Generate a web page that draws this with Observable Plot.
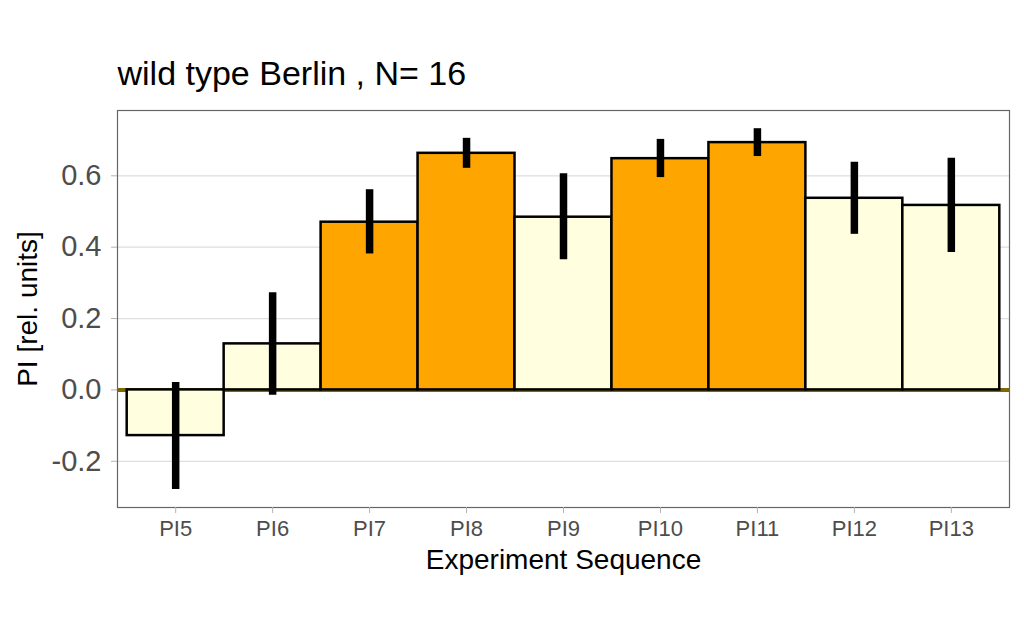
<!DOCTYPE html>
<html>
<head>
<meta charset="utf-8">
<script src="https://cdn.jsdelivr.net/npm/d3@7"></script>
<script src="https://cdn.jsdelivr.net/npm/@observablehq/plot@0.6"></script>
<style>
  html, body { margin: 0; padding: 0; background: #ffffff; }
  #chart { width: 1024px; height: 640px; }
</style>
</head>
<body>
<div id="chart"></div>
<script>
const titleText = "wild type Berlin , N= 16";
const xTitle = "Experiment Sequence";
const yTitle = "PI [rel. units]";

const labels = ["PI5", "PI6", "PI7", "PI8", "PI9", "PI10", "PI11", "PI12", "PI13"];
const phase  = ["test", "test", "training", "training", "test", "training", "training", "test", "test"];
const means  = [-0.128, 0.129, 0.470, 0.663, 0.484, 0.648, 0.693, 0.537, 0.517];
const lower  = [-0.279, -0.015, 0.381, 0.621, 0.365, 0.595, 0.654, 0.436, 0.385];
const upper  = [0.021, 0.272, 0.561, 0.705, 0.606, 0.702, 0.732, 0.638, 0.649];
const yTicks = [-0.2, 0.0, 0.2, 0.4, 0.6];

const data = labels.map((label, i) => ({
  label, phase: phase[i], mean: means[i], lo: lower[i], hi: upper[i]
}));

const fmt = d => d.toFixed(1);

const chart = Plot.plot({
  width: 1024,
  height: 640,
  marginLeft: 117,
  marginRight: 15,
  marginTop: 110,
  marginBottom: 133,
  style: { fontFamily: "'Liberation Sans', Arial, sans-serif", background: "#ffffff" },
  x: { domain: labels, paddingInner: 0, paddingOuter: 0.1, round: false, axis: null },
  y: { domain: [-0.3295, 0.783], axis: null },
  color: { domain: ["test", "training"], range: ["#FFFFE0", "#FFA500"] },
  marks: [
    Plot.gridY(yTicks, { stroke: "#dedede", strokeOpacity: 1, strokeWidth: 1.2 }),
    Plot.ruleY([0], { stroke: "#806800", strokeWidth: 4 }),
    Plot.barY(data, { x: "label", y: "mean", fill: "phase", stroke: "#000000", strokeWidth: 2.5 }),
    Plot.ruleX(data, { x: "label", y1: "lo", y2: "hi", stroke: "#000000", strokeWidth: 7.5 }),
    Plot.frame({ stroke: "#666666", strokeWidth: 1.2 }),
    Plot.axisY(yTicks, {
      tickFormat: fmt, tickSize: 6, tickPadding: 10, fontSize: 29,
      fill: "#4d4d4d", stroke: "#b3b3b3", label: null
    }),
    Plot.axisX(labels, {
      tickSize: 6, tickPadding: 7, fontSize: 22,
      fill: "#4d4d4d", stroke: "#b3b3b3", label: null
    }),
    Plot.text([yTitle], {
      frameAnchor: "left", textAnchor: "middle", rotate: -90, dx: -89, fontSize: 28, fill: "#000000"
    }),
    Plot.text([xTitle], {
      frameAnchor: "bottom", textAnchor: "middle", lineAnchor: "bottom", dy: 61, fontSize: 28, fill: "#000000"
    }),
    Plot.text([titleText], {
      frameAnchor: "top-left", textAnchor: "start", lineAnchor: "bottom", dy: -26, fontSize: 34, fill: "#000000"
    })
  ]
});

document.getElementById("chart").appendChild(chart);
</script>
</body>
</html>
